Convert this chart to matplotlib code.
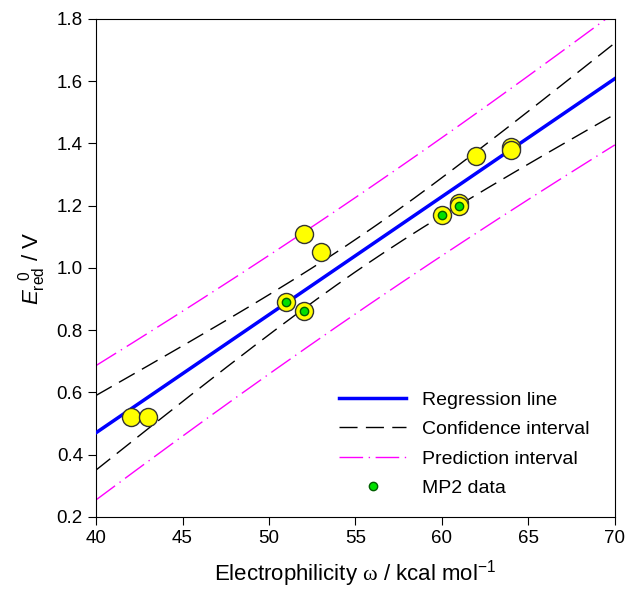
import numpy as np
import matplotlib
matplotlib.use('Agg')
import matplotlib.pyplot as plt

plt.rcParams['font.family'] = ['Liberation Sans', 'DejaVu Sans']
plt.rcParams['mathtext.fontset'] = 'custom'
plt.rcParams['mathtext.rm'] = 'Liberation Sans'
plt.rcParams['mathtext.it'] = 'Liberation Sans:italic'
plt.rcParams['mathtext.sf'] = 'Liberation Serif'  # used for the serif omega

# data
omega = [42, 43, 52, 53, 51, 52, 60, 61, 61, 62, 64, 64]
e_red = [0.52, 0.52, 1.11, 1.05, 0.89, 0.86, 1.17, 1.21, 1.20, 1.36, 1.39, 1.38]
# MP2 subset
omega_mp2 = [51, 52, 60, 61]
e_red_mp2 = [0.89, 0.86, 1.17, 1.20]

x = np.array(omega, dtype=float)
y = np.array(e_red, dtype=float)
n = len(x)
slope, icpt = np.polyfit(x, y, 1)
resid = y - (slope * x + icpt)
s = np.sqrt(np.sum(resid**2) / (n - 2))
sxx = np.sum((x - x.mean())**2)
t = 2.228  # t(0.975, df=10)

xx = np.linspace(40, 70, 200)
yy = slope * xx + icpt
ci = t * s * np.sqrt(1.0 / n + (xx - x.mean())**2 / sxx)
pi = t * s * np.sqrt(1 + 1.0 / n + (xx - x.mean())**2 / sxx)

fig = plt.figure(figsize=(6.28, 5.92), dpi=100)
ax = fig.add_axes([0.153, 0.127, 0.826, 0.841])

ax.plot(xx, yy, color='#0000ff', lw=2.5, label='Regression line', zorder=3)
ax.plot(xx, yy + ci, color='black', lw=1, dashes=(13, 6), label='Confidence interval')
ax.plot(xx, yy - ci, color='black', lw=1, dashes=(13, 6))
ax.plot(xx, yy + pi, color='#ff00ff', lw=1, dashes=(17, 4, 1, 4), label='Prediction interval')
ax.plot(xx, yy - pi, color='#ff00ff', lw=1, dashes=(17, 4, 1, 4))

ax.plot(omega, e_red, 'o', ms=13, mfc='#ffff00', mec='#333333', mew=1, ls='none', zorder=4)
ax.plot(omega_mp2, e_red_mp2, 'o', ms=6, mfc='#00e000', mec='#006000', mew=1,
        ls='none', zorder=5, label='MP2 data')

ax.set_xlim(40, 70)
ax.set_ylim(0.2, 1.8)
ax.set_xticks(np.arange(40, 71, 5))
ax.set_yticks(np.arange(0.2, 1.81, 0.2))
ax.set_yticklabels([f'{v:.1f}' for v in np.arange(0.2, 1.81, 0.2)])
ax.tick_params(direction='out', length=6, labelsize=13.5, top=False, right=False)

ax.set_xlabel(r'Electrophilicity $\mathsf{\omega}$ / kcal mol$^{-1}$', fontsize=16, labelpad=8)
ax.set_ylabel(r'$E_{\mathrm{red}}^{\ \ 0}$ / V', fontsize=16, labelpad=6)

ax.legend(loc='lower right', frameon=False, fontsize=14, handlelength=3.45,
          bbox_to_anchor=(0.985, 0.005), labelspacing=0.6, handletextpad=0.8)

fig.savefig('out.png', dpi=100)
